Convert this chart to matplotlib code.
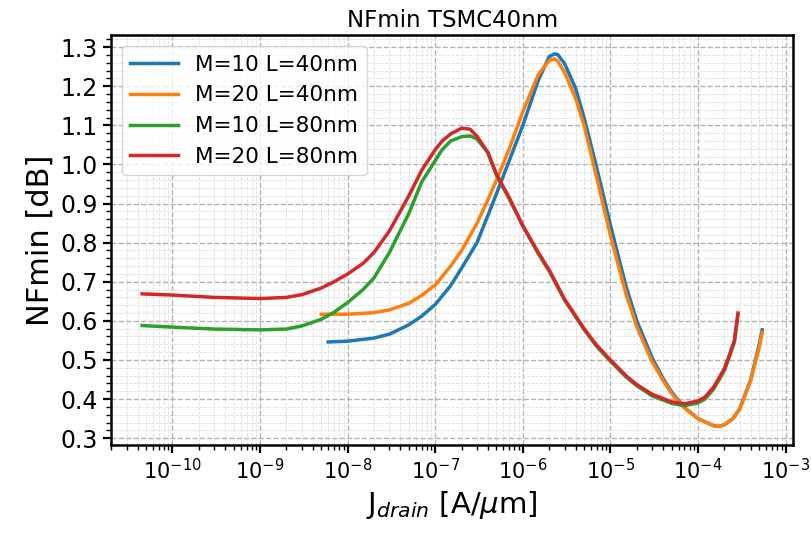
#coding=UTF-8
import matplotlib
matplotlib.use("Agg")
import matplotlib.pyplot as plt
from matplotlib.ticker import MultipleLocator

# drain current density [A/um] and minimum noise figure [dB] for each device
j_l40 = [5.0e-9, 6.0e-9, 1e-8, 2e-8, 3e-8, 5e-8, 7e-8, 1e-7, 1.5e-7, 2e-7, 3e-7,
         4e-7, 5e-7, 7e-7, 1e-6, 1.5e-6, 2e-6, 2.3e-6, 2.5e-6, 3e-6, 4e-6, 5e-6,
         7e-6, 1e-5, 1.5e-5, 2e-5, 3e-5, 4e-5, 5e-5, 7e-5, 1e-4, 1.5e-4,
         1.7e-4, 2e-4, 2.5e-4, 3e-4, 4e-4, 5e-4, 5.4e-4]
nf_m10_l40 = [None, 0.546, 0.548, 0.556, 0.566, 0.590, 0.612, 0.642, 0.690, 0.735, 0.800,
              0.870, 0.925, 1.010, 1.100, 1.215, 1.276, 1.283, 1.281, 1.258, 1.195, 1.120,
              0.990, 0.845, 0.690, 0.600, 0.505, 0.452, 0.418, 0.378, 0.350, 0.332,
              0.330, 0.334, 0.350, 0.375, 0.450, 0.540, 0.577]
nf_m20_l40 = [0.617, 0.617, 0.617, 0.621, 0.628, 0.645, 0.665, 0.692, 0.740, 0.780, 0.850,
              0.910, 0.960, 1.040, 1.135, 1.230, 1.266, 1.270, 1.264, 1.235, 1.170, 1.100,
              0.965, 0.818, 0.670, 0.585, 0.495, 0.447, 0.414, 0.377, 0.350, 0.332,
              0.330, 0.334, 0.350, 0.375, 0.448, 0.532, 0.570]

j_l80 = [4.5e-11, 1e-10, 3e-10, 1e-9, 2e-9, 3e-9, 5e-9, 7e-9, 1e-8, 1.5e-8, 2e-8,
         3e-8, 5e-8, 7e-8, 1e-7, 1.2e-7, 1.5e-7, 2e-7, 2.5e-7, 3e-7, 4e-7, 5e-7, 7e-7,
         1e-6, 1.5e-6, 2e-6, 3e-6, 5e-6, 7e-6, 1e-5, 1.5e-5, 2e-5, 3e-5, 5e-5,
         7e-5, 1e-4, 1.2e-4, 1.5e-4, 1.75e-4, 2e-4, 2.3e-4, 2.6e-4, 2.86e-4]
nf_m10_l80 = [0.588, 0.584, 0.579, 0.577, 0.579, 0.587, 0.604, 0.622, 0.647, 0.680, 0.710,
              0.775, 0.875, 0.955, 1.010, 1.038, 1.060, 1.071, 1.073, 1.065, 1.030, 0.972, 0.912,
              0.843, 0.772, 0.727, 0.653, 0.578, 0.534, 0.497, 0.457, 0.434, 0.408, 0.389,
              0.383, 0.390, 0.400, 0.425, 0.450, 0.473, 0.510, 0.545, 0.615]
nf_m20_l80 = [0.669, 0.666, 0.660, 0.657, 0.660, 0.667, 0.684, 0.700, 0.720, 0.747, 0.775,
              0.830, 0.920, 0.985, 1.038, 1.060, 1.078, 1.093, 1.090, 1.072, 1.030, 0.975, 0.915,
              0.843, 0.775, 0.730, 0.655, 0.580, 0.537, 0.500, 0.460, 0.437, 0.412, 0.393,
              0.388, 0.395, 0.405, 0.430, 0.455, 0.478, 0.515, 0.550, 0.620]

labels = ["M=10 L=40nm", "M=20 L=40nm", "M=10 L=80nm", "M=20 L=80nm"]

fig = plt.figure(figsize=(8.11, 5.33), dpi=100)
ax = fig.add_subplot(111)
fig.subplots_adjust(left=0.137, right=0.978, top=0.934, bottom=0.165)

# the M=10 L=40nm sweep starts a little later than M=20
j_m10 = [j for j, v in zip(j_l40, nf_m10_l40) if v is not None]
nf_m10 = [v for v in nf_m10_l40 if v is not None]

# one curve per device, default colour cycle
ax.semilogx(j_m10, nf_m10, lw=2.5, label=labels[0])
ax.semilogx(j_l40, nf_m20_l40, lw=2.5, label=labels[1])
ax.semilogx(j_l80, nf_m10_l80, lw=2.5, label=labels[2])
ax.semilogx(j_l80, nf_m20_l80, lw=2.5, label=labels[3])

ax.set_title("NFmin TSMC40nm", fontsize=16.5)
ax.set_xlabel(r"J$_{drain}$ [A/$\mu$m]", fontsize=21)
ax.set_ylabel("NFmin [dB]", fontsize=22)

ax.yaxis.set_major_locator(MultipleLocator(0.1))
ax.yaxis.set_minor_locator(MultipleLocator(0.02))

# dashed grid on major and minor ticks
ax.grid(which="major", ls="--", color="0.7", lw=1.0)
ax.grid(which="minor", ls="--", color="0.87", lw=0.6)
ax.set_axisbelow(True)

ax.tick_params(which="major", length=6, width=1.6)
ax.tick_params(which="minor", length=3.5, width=1.0)
ax.tick_params(axis="x", labelsize=15)
ax.tick_params(axis="y", labelsize=17)
for s in ax.spines.values():
    s.set_linewidth(1.8)

ax.legend(fontsize=15.5, loc="upper left", handlelength=2.2)

plt.savefig("out.png", dpi=100)
